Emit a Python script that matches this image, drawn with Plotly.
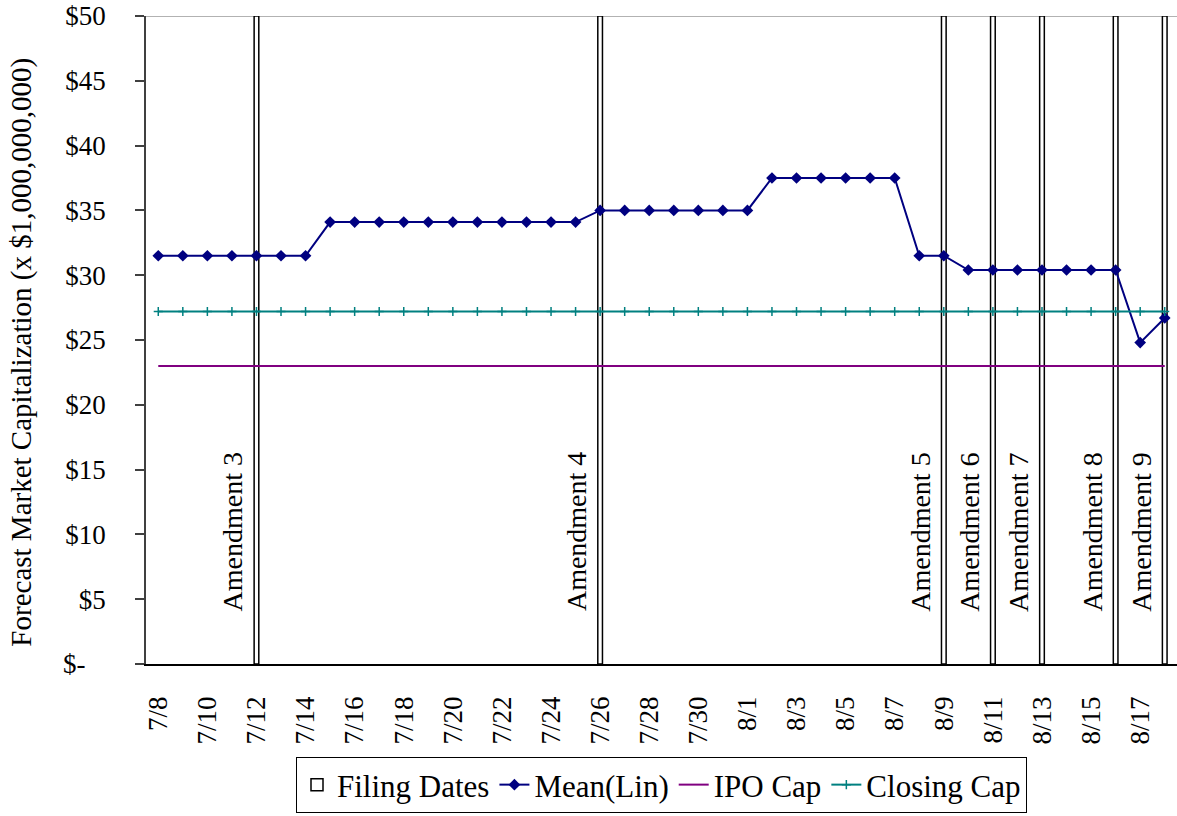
import plotly.graph_objects as go

dates = ["7/8", "7/9", "7/10", "7/11", "7/12", "7/13", "7/14", "7/15", "7/16", "7/17",
         "7/18", "7/19", "7/20", "7/21", "7/22", "7/23", "7/24", "7/25", "7/26", "7/27",
         "7/28", "7/29", "7/30", "7/31", "8/1", "8/2", "8/3", "8/4", "8/5", "8/6",
         "8/7", "8/8", "8/9", "8/10", "8/11", "8/12", "8/13", "8/14", "8/15", "8/16",
         "8/17", "8/18"]

mean_lin = [31.5, 31.5, 31.5, 31.5, 31.5, 31.5, 31.5,
            34.1, 34.1, 34.1, 34.1, 34.1, 34.1, 34.1, 34.1, 34.1, 34.1, 34.1,
            35.0, 35.0, 35.0, 35.0, 35.0, 35.0, 35.0,
            37.5, 37.5, 37.5, 37.5, 37.5, 37.5,
            31.5, 31.5,
            30.4, 30.4, 30.4, 30.4, 30.4, 30.4, 30.4,
            24.8, 26.7]

ipo_cap = [23.0, 23.0, 23.0, 23.0, 23.0, 23.0, 23.0, 23.0, 23.0, 23.0,
           23.0, 23.0, 23.0, 23.0, 23.0, 23.0, 23.0, 23.0, 23.0, 23.0,
           23.0, 23.0, 23.0, 23.0, 23.0, 23.0, 23.0, 23.0, 23.0, 23.0,
           23.0, 23.0, 23.0, 23.0, 23.0, 23.0, 23.0, 23.0, 23.0, 23.0,
           23.0, 23.0]

closing_cap = [27.2, 27.2, 27.2, 27.2, 27.2, 27.2, 27.2, 27.2, 27.2, 27.2,
               27.2, 27.2, 27.2, 27.2, 27.2, 27.2, 27.2, 27.2, 27.2, 27.2,
               27.2, 27.2, 27.2, 27.2, 27.2, 27.2, 27.2, 27.2, 27.2, 27.2,
               27.2, 27.2, 27.2, 27.2, 27.2, 27.2, 27.2, 27.2, 27.2, 27.2,
               27.2, 27.2]

filing_dates = ["7/12", "7/26", "8/9", "8/11", "8/13", "8/16", "8/18"]
filing_heights = [50, 50, 50, 50, 50, 50, 50]
filing_labels = ["Amendment 3", "Amendment 4", "Amendment 5", "Amendment 6",
                 "Amendment 7", "Amendment 8", "Amendment 9"]

x_tick_labels = ["7/8", "7/10", "7/12", "7/14", "7/16", "7/18", "7/20", "7/22",
                 "7/24", "7/26", "7/28", "7/30", "8/1", "8/3", "8/5", "8/7",
                 "8/9", "8/11", "8/13", "8/15", "8/17"]

y_tick_vals = [0, 5, 10, 15, 20, 25, 30, 35, 40, 45, 50]
y_tick_text = ["$-\u2007\u00a0", "$5", "$10", "$15", "$20", "$25", "$30",
               "$35", "$40", "$45", "$50"]

FONT = "Liberation Serif, Times New Roman, serif"

fig = go.Figure()

fig.add_trace(go.Bar(
    x=filing_dates, y=filing_heights, name="Filing Dates", width=0.19,
    marker=dict(color="white", line=dict(color="black", width=1.5)),
    hoverinfo="skip",
))

fig.add_trace(go.Scatter(
    x=dates, y=mean_lin, name="Mean(Lin)", mode="lines+markers",
    line=dict(color="#000080", width=2),
    marker=dict(symbol="diamond", size=9, color="#000080"),
))

fig.add_trace(go.Scatter(
    x=dates, y=ipo_cap, name="IPO Cap", mode="lines",
    line=dict(color="#800080", width=2),
))

fig.add_trace(go.Scatter(
    x=dates, y=closing_cap, name="Closing Cap", mode="lines+markers",
    line=dict(color="#008080", width=2),
    marker=dict(symbol="cross-thin", size=6.5, color="#008080",
                line=dict(color="#008080", width=1.5)),
))

for d, lab in zip(filing_dates, filing_labels):
    fig.add_annotation(
        x=d, y=3.9, xref="x", yref="y", text=lab, textangle=-90,
        showarrow=False, xanchor="center", yanchor="bottom", xshift=-23,
        font=dict(family=FONT, size=28, color="black"),
    )

fig.add_annotation(
    x=-0.1203, y=0.482, xref="paper", yref="paper",
    text="Forecast Market Capitalization (x $1,000,000,000)",
    textangle=-90, showarrow=False, xanchor="center", yanchor="middle",
    font=dict(family=FONT, size=29, color="black"),
)

fig.add_shape(type="line", xref="paper", yref="y", x0=0, x1=1, y0=50, y1=50,
              line=dict(color="#999999", width=1.5), layer="below")

fig.update_layout(
    width=1177, height=816,
    margin=dict(l=146, r=0, t=16, b=152, pad=0),
    paper_bgcolor="white", plot_bgcolor="white",
    font=dict(family=FONT, size=27, color="black"),
    showlegend=True,
    legend=dict(orientation="h", x=0.5, xanchor="center", y=-0.2299, yanchor="bottom",
                bordercolor="black", borderwidth=1, font=dict(family=FONT, size=31),
                traceorder="normal", itemwidth=30),
    xaxis=dict(
        type="category", categoryorder="array", categoryarray=dates,
        range=[-0.5, 41.5], tickmode="array", tickvals=x_tick_labels,
        ticktext=x_tick_labels, ticks="", tickangle=-90, automargin=False,
        showline=True, linecolor="black", linewidth=1.5,
        showgrid=False, zeroline=False, ticklabelstandoff=20,
        tickfont=dict(family=FONT, size=27, color="black"),
    ),
    xaxis2=dict(
        overlaying="x", anchor="y", side="bottom", range=[-0.5, 41.5],
        tickmode="linear", tick0=-0.5, dtick=2, ticks="outside", ticklen=9,
        tickwidth=1.5, tickcolor="black", showticklabels=False, automargin=False,
        showline=False, showgrid=False, zeroline=False,
    ),
    yaxis=dict(
        range=[0, 50], tickmode="array", tickvals=y_tick_vals, ticktext=y_tick_text,
        ticks="outside", ticklen=9, tickwidth=1.5, tickcolor="#404040",
        showline=True, linecolor="#404040", linewidth=1.5, automargin=False,
        showgrid=False, zeroline=False, ticklabelstandoff=24,
        tickfont=dict(family=FONT, size=27, color="black"),
    ),
)

fig.write_html("out.html", config={"displayModeBar": False},
               post_script="document.body.style.margin='0';document.body.style.overflow='hidden';")
